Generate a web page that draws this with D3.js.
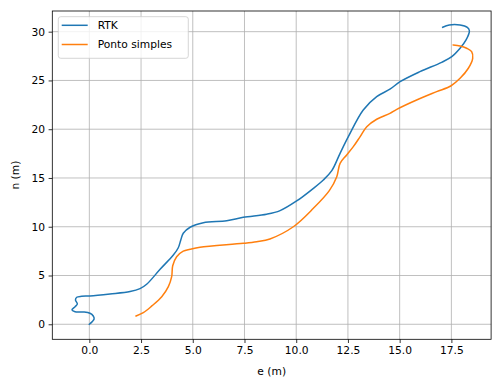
<!DOCTYPE html>
<html><head><meta charset="utf-8">
<script src="https://cdn.jsdelivr.net/npm/d3@7"></script>
<style>body{margin:0;background:#fff}svg{display:block}text{font-family:"DejaVu Sans",sans-serif}</style>
</head><body>
<svg id="c" width="492" height="377"></svg>
<script>
const rtkE = [0,0.23,0.19,0.03,-0.29,-0.69,-0.84,-0.69,-0.58,-0.67,-0.61,-0.37,0.03,1.0,1.97,2.45,2.77,3.42,4.06,4.30,4.42,4.54,4.87,5.51,6.64,7.44,8.57,9.22,10.02,10.83,11.31,11.72,12.12,12.52,13.24,13.89,14.53,15.02,15.98,17.03,17.52,17.92,18.21,18.37,18.27,17.92,17.4,17.08];
const rtkN = [0,0.54,0.85,1.13,1.26,1.29,1.47,1.80,2.08,2.49,2.77,2.87,2.90,3.1,3.35,3.65,4.1,5.64,7.1,7.85,8.64,9.33,9.95,10.42,10.62,10.97,11.28,11.65,12.64,13.94,14.8,15.75,17.53,19.24,21.97,23.34,24.1,24.87,25.9,26.86,27.44,28.3,29.15,30.1,30.45,30.69,30.69,30.45];
const psE = [2.26,2.61,3.02,3.5,3.82,3.98,4.03,4.22,4.54,4.87,5.35,7.44,8.09,8.73,9.86,10.83,11.6,11.96,12.12,12.44,12.76,13.09,13.41,13.89,14.53,14.86,15.82,16.79,17.47,17.92,18.32,18.53,18.48,18.24,17.92,17.59];
const psN = [0.85,1.19,1.88,2.83,3.86,4.88,6.0,6.93,7.5,7.69,7.9,8.3,8.47,8.75,10.0,11.89,13.7,15.13,16.5,17.36,18.21,19.24,20.26,21.02,21.63,22.04,23.0,23.85,24.43,25.22,26.25,27.27,27.95,28.3,28.54,28.64];
const xTicks = [0,2.5,5,7.5,10,12.5,15,17.5];
const yTicks = [0,5,10,15,20,25,30];
const seriesNames = ["RTK","Ponto simples"];
const colors = ["#1f77b4","#ff7f0e"];

const svg = d3.select("#c");
const L=52.3,R=491.1,T=11,B=339.3;
const x = d3.scaleLinear().domain([-1.79,19.42]).range([L,R]);
const y = d3.scaleLinear().domain([-1.54,32.12]).range([B,T]);

// grid
svg.append("g").selectAll("line").data(xTicks).join("line")
  .attr("x1",d=>x(d)).attr("x2",d=>x(d)).attr("y1",T).attr("y2",B)
  .attr("stroke","#b0b0b0").attr("stroke-width",0.8);
svg.append("g").selectAll("line").data(yTicks).join("line")
  .attr("y1",d=>y(d)).attr("y2",d=>y(d)).attr("x1",L).attr("x2",R)
  .attr("stroke","#b0b0b0").attr("stroke-width",0.8);

// lines
const line = d3.line().x(d=>x(d[0])).y(d=>y(d[1])).curve(d3.curveCatmullRom.alpha(0.5));
const series = [d3.zip(rtkE,rtkN), d3.zip(psE,psN)];
svg.append("g").selectAll("path").data(series).join("path")
  .attr("d",line).attr("fill","none").attr("stroke",(d,i)=>colors[i])
  .attr("stroke-width",1.5).attr("stroke-linejoin","round").attr("stroke-linecap","square");

// axes
const fs = "10.7px";
const xa = svg.append("g").attr("transform",`translate(0,${B})`)
  .call(d3.axisBottom(x).tickValues(xTicks).tickFormat(d3.format(".1f")).tickSize(3.7).tickPadding(3.5));
const ya = svg.append("g").attr("transform",`translate(${L},0)`)
  .call(d3.axisLeft(y).tickValues(yTicks).tickFormat(d3.format("d")).tickSize(3.7).tickPadding(3.5));
[xa,ya].forEach(a=>{a.select(".domain").remove();a.selectAll("text").attr("font-size",fs).attr("fill","#000").attr("font-family","DejaVu Sans");a.selectAll("line").attr("stroke","#000").attr("stroke-width",0.8);});

// spines
svg.append("rect").attr("x",L).attr("y",T).attr("width",R-L).attr("height",B-T)
  .attr("fill","none").attr("stroke","#000").attr("stroke-width",0.8);

// labels
svg.append("text").attr("x",(L+R)/2).attr("y",375).attr("text-anchor","middle").attr("font-size",fs).text("e (m)");
svg.append("text").attr("transform",`translate(19,${(T+B)/2}) rotate(-90)`).attr("text-anchor","middle").attr("font-size",fs).text("n (m)");

// legend
const lg = svg.append("g");
lg.append("rect").attr("x",58.3).attr("y",16.7).attr("width",130).attr("height",41.6).attr("rx",2.5)
  .attr("fill","#fff").attr("fill-opacity",0.8).attr("stroke","#cccccc").attr("stroke-width",0.8);
seriesNames.forEach((s,i)=>{
  const yy = 25.3 + i*19.2;
  lg.append("line").attr("x1",61.7).attr("x2",87.7).attr("y1",yy).attr("y2",yy).attr("stroke",colors[i]).attr("stroke-width",1.5);
  lg.append("text").attr("x",97.7).attr("y",yy).attr("dy","0.36em").attr("font-size",fs).text(s);
});
</script>
</body></html>
